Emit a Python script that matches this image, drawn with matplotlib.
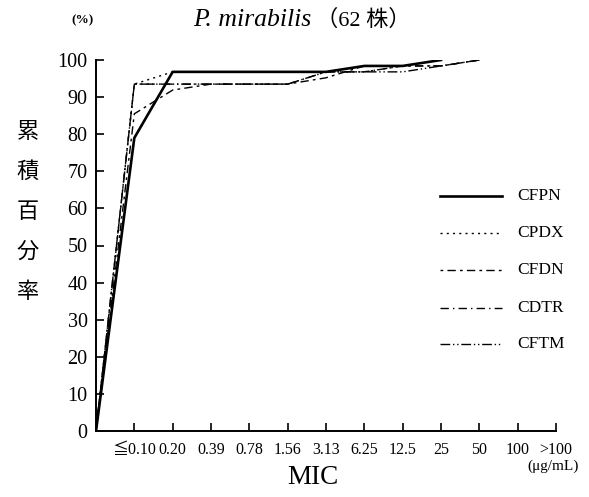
import matplotlib
matplotlib.use("Agg")
import matplotlib.pyplot as plt
from matplotlib.lines import Line2D

# MIC categories (position 0 is the origin of the cumulative curves)
categories = ["≦0.10", "0.20", "0.39", "0.78", "1.56", "3.13",
              "6.25", "12.5", "25", "50", "100", ">100"]

# Cumulative percentage of strains inhibited (62 strains)
cfpn = [0, 79.0, 96.8, 96.8, 96.8, 96.8, 96.8, 98.4, 98.4, 100]
cpdx = [0, 93.5, 96.8, 96.8, 96.8, 96.8, 96.8, 96.8, 98.4, 100]
cfdn = [0, 85.5, 91.9, 93.5, 93.5, 93.5, 95.2, 98.4, 98.4, 98.4, 100]
cdtr = [0, 93.5, 93.5, 93.5, 93.5, 93.5, 96.8, 96.8, 98.4, 98.4, 100]
cftm = [0, 93.5, 93.5, 93.5, 93.5, 93.5, 96.8, 96.8, 96.8, 98.4, 100]

series = [
    ("CFPN", cfpn, dict(linestyle="-", linewidth=1.9)),
    ("CPDX", cpdx, dict(linestyle=(0, (1.5, 3)), linewidth=1.0)),
    ("CFDN", cfdn, dict(linestyle=(0, (2, 3, 6, 3)), linewidth=1.0)),
    ("CDTR", cdtr, dict(linestyle=(0, (6, 3, 1, 3)), linewidth=1.0)),
    ("CFTM", cftm, dict(linestyle=(0, (7, 2, 1, 2, 1, 2)), linewidth=1.0)),
]

serif = ["Liberation Serif", "Noto Sans CJK JP", "DejaVu Serif"]
cjk = ["Noto Sans CJK JP", "DejaVu Sans"]

W, H = 589, 497
fig = plt.figure(figsize=(W / 100, H / 100), dpi=100)
ax = fig.add_axes([96 / W, 1 - 431 / H, (556 - 96) / W, (431 - 60) / H])

for name, vals, style in series:
    ax.plot(range(len(vals)), vals, color="black", **style)

ax.set_xlim(0, 12)
ax.set_ylim(0, 100)
ax.set_xticks(range(1, 13))
ax.set_xticklabels(categories, fontfamily=serif, fontsize=11.5)
ax.set_yticks(range(0, 101, 10))
ax.set_yticklabels([str(v) for v in range(0, 101, 10)], fontfamily=serif, fontsize=14.5)
ax.tick_params(axis="both", direction="in", length=6, width=1.2, color="black")
ax.tick_params(axis="x", pad=8)
ax.tick_params(axis="y", pad=6)
for s in ("top", "right"):
    ax.spines[s].set_visible(False)
for s in ("left", "bottom"):
    ax.spines[s].set_linewidth(1.4)
ax.patch.set_alpha(0)

# Title
fig.text(193 / W, 1 - 20 / H, "P. mirabilis", fontfamily=serif, style="italic",
         fontsize=18.5, ha="left", va="center")
fig.text(316 / W, 1 - 20 / H, "（62 株）", fontfamily=serif,
         fontsize=16, ha="left", va="center")
fig.text(82 / W, 1 - 20 / H, "(%)", fontfamily=serif, fontsize=9.5,
         fontweight="bold", ha="center", va="center")

# Vertical y-axis title
for i, ch in enumerate("累積百分率"):
    fig.text(28 / W, 1 - (131 + 40 * i) / H, ch, fontfamily=cjk, fontsize=16,
             ha="center", va="center")

# X-axis titles
fig.text(313 / W, 1 - 478 / H, "MIC", fontfamily=serif, fontsize=19.5,
         ha="center", va="center")
fig.text(553 / W, 1 - 466 / H, "(μg/mL)", fontfamily=serif, fontsize=11,
         ha="center", va="center")

# Legend keys
rows_y = [196, 233, 270, 308, 344]
for (name, vals, style), y in zip(series, rows_y):
    yf = 1 - y / H
    fig.add_artist(Line2D([440 / W, 502 / W], [yf, yf], color="black",
                          transform=fig.transFigure, **style))
    fig.text(517 / W, yf, name, fontfamily=serif, fontsize=12.5,
             ha="left", va="center")

fig.savefig("out.png", dpi=100)
